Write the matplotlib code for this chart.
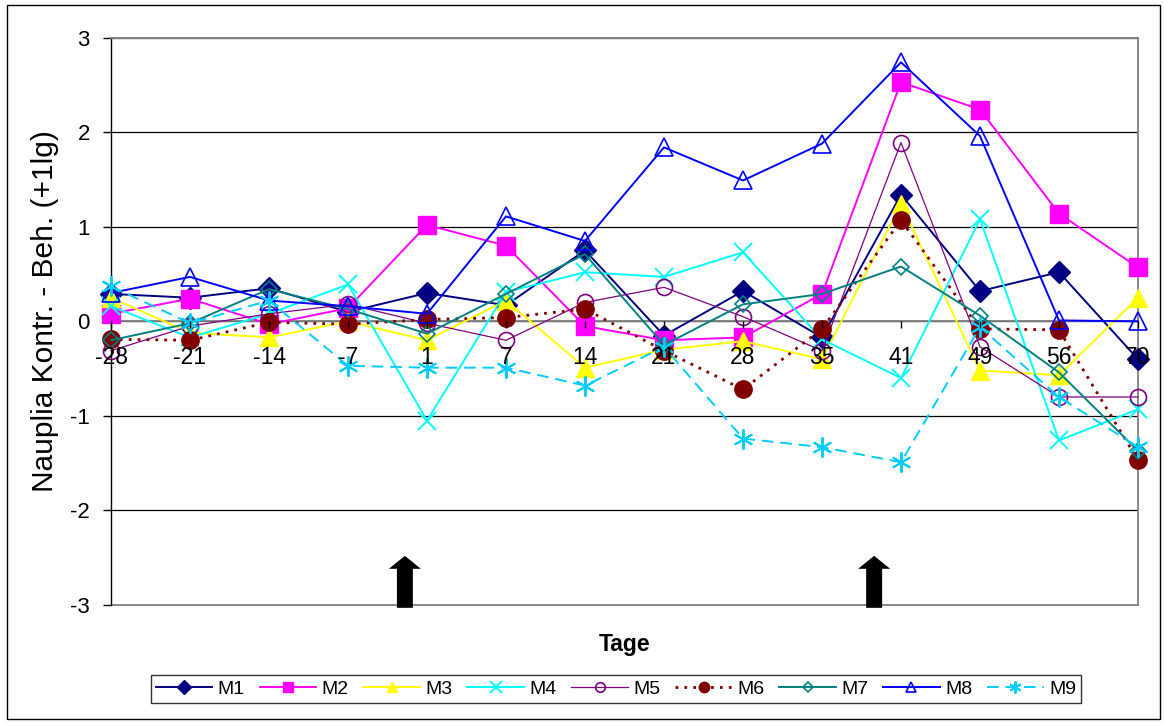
import matplotlib
matplotlib.use("Agg")
import matplotlib.pyplot as plt
from matplotlib.patches import Rectangle

plt.rcParams['font.family'] = ['Liberation Sans', 'DejaVu Sans']

# Sampling days (category axis)
days = ["-28", "-21", "-14", "-7", "1", "7", "14", "21", "28", "35", "41", "49", "56", "70"]

# Nauplia difference control - treatment, log(x+1), per mesocosm
m1 = [0.29, 0.25, 0.35, 0.10, 0.30, 0.17, 0.75, -0.15, 0.32, -0.17, 1.34, 0.32, 0.52, -0.40]
m2 = [0.08, 0.24, -0.03, 0.14, 1.02, 0.80, -0.05, -0.20, -0.17, 0.29, 2.53, 2.24, 1.14, 0.57]
m3 = [0.25, -0.12, -0.17, 0.00, -0.20, 0.22, -0.49, -0.30, -0.21, -0.40, 1.24, -0.52, -0.57, 0.25]
m4 = [0.16, -0.17, 0.08, 0.39, -1.05, 0.31, 0.52, 0.47, 0.73, -0.19, -0.60, 1.08, -1.26, -0.93]
m5 = [-0.31, -0.05, 0.08, 0.18, -0.02, -0.20, 0.20, 0.36, 0.05, -0.31, 1.89, -0.27, -0.80, -0.80]
m6 = [-0.19, -0.20, -0.01, -0.03, 0.02, 0.04, 0.13, -0.31, -0.72, -0.08, 1.07, -0.08, -0.09, -1.47]
m7 = [-0.20, -0.02, 0.34, 0.13, -0.13, 0.29, 0.71, -0.25, 0.18, 0.29, 0.58, 0.06, -0.54, -1.37]
m8 = [0.30, 0.47, 0.22, 0.16, 0.08, 1.11, 0.85, 1.84, 1.49, 1.88, 2.74, 1.96, 0.01, 0.00]
m9 = [0.37, -0.02, 0.22, -0.47, -0.49, -0.49, -0.68, -0.27, -1.24, -1.33, -1.49, -0.06, -0.80, -1.33]

labels = ["M1", "M2", "M3", "M4", "M5", "M6", "M7", "M8", "M9"]
series = [m1, m2, m3, m4, m5, m6, m7, m8, m9]

# Treatment events (category positions of the arrows)
treatments = [3.72, 9.66]

asterisk = (6, 2, 0)
styles = [
    dict(color='#000080', lw=1.4, ls='-', marker='D', ms=11.5, mfc='#000080', mec='#000080', mew=1.0),
    dict(color='#FF00FF', lw=1.4, ls='-', marker='s', ms=12.5, mfc='#FF00FF', mec='#FF00FF', mew=1.0),
    dict(color='#FFFF00', lw=1.4, ls='-', marker='^', ms=12.5, mfc='#FFFF00', mec='#FFFF00', mew=1.0),
    dict(color='#00FFFF', lw=1.4, ls='-', marker='x', ms=13.5, mfc='#00FFFF', mec='#00FFFF', mew=1.4),
    dict(color='#800080', lw=0.9, ls='-', marker='o', ms=11.5, mfc='none', mec='#800080', mew=1.2),
    dict(color='#800000', lw=2.0, ls=(0, (1, 2.2)), marker='o', ms=12.5, mfc='#800000', mec='#800000', mew=1.0),
    dict(color='#008080', lw=1.4, ls='-', marker='D', ms=8.5, mfc='none', mec='#008080', mew=1.2),
    dict(color='#0000FF', lw=1.4, ls='-', marker='^', ms=12.5, mfc='none', mec='#0000FF', mew=1.2),
    dict(color='#00CCFF', lw=1.4, ls=(0, (6, 3.5)), marker=asterisk, ms=14.5, mfc='#00CCFF', mec='#00CCFF', mew=1.4),
]

W, H = 1164, 723
fig = plt.figure(figsize=(W / 100, H / 100), dpi=100)
ax = fig.add_axes([111 / W, 1 - 605 / H, (1138 - 111) / W, (605 - 37.7) / H])

x = list(range(len(days)))
for lab, vals, st in zip(labels, series, styles):
    ax.plot(x, vals, label=lab, clip_on=False, zorder=3, **st)

ax.set_xlim(0, len(days) - 1)
ax.set_ylim(-3, 3)
ax.set_yticks([-3, -2, -1, 0, 1, 2, 3])
ax.set_yticklabels(["-3", "-2", "-1", "0", "1", "2", "3"])
ax.set_xticks(x)
ax.set_xticklabels(days)

# horizontal gridlines
ax.yaxis.grid(True, color='black', lw=0.9, zorder=1)
ax.set_axisbelow(True)
# category labels sit on top of the markers
ax.xaxis.set_zorder(4)

# plot-area frame and zero-crossing category axis
for side in ('top', 'right'):
    ax.spines[side].set_color('#808080')
    ax.spines[side].set_linewidth(1.3)
ax.spines['left'].set_color('black')
ax.spines['left'].set_linewidth(1.0)
ax.spines['bottom'].set_position(('data', 0))
ax.spines['bottom'].set_color('#808080')
ax.spines['bottom'].set_linewidth(1.3)
ax.axhline(-3, color='#808080', lw=1.3, zorder=2, clip_on=False)
ax.axhline(3, color='#808080', lw=1.3, zorder=2, clip_on=False)

ax.tick_params(axis='y', direction='out', length=5.8, width=1.0, pad=9.4,
               labelsize=16, colors='black')
ax.tick_params(axis='x', direction='out', length=5, width=1.0, pad=13,
               labelsize=16.5, colors='black')

# treatment arrows below the data
for cx in treatments:
    hw, sw = 0.2025, 0.101
    y_tip, y_head, y_base = -2.48, -2.617, -3.03
    ax.fill([cx, cx + hw, cx + sw, cx + sw, cx - sw, cx - sw, cx - hw],
            [y_tip, y_head, y_head, y_base, y_base, y_head, y_head],
            color='black', lw=0, zorder=4, clip_on=False)

fig.text(624.5 / W, 1 - 645 / H, "Tage", ha='center', va='center',
         fontsize=16.5, fontweight='bold')
fig.text(45 / W, 1 - 311 / H, "Nauplia Kontr. - Beh. (+1lg)", ha='center',
         va='center', rotation=90, fontsize=21.5)

leg = fig.legend(loc='center', bbox_to_anchor=(616 / W, 1 - 689 / H), ncol=9,
                 fontsize=14, frameon=True, fancybox=False, edgecolor='black',
                 handlelength=2.9, handletextpad=0.3, columnspacing=0.75,
                 borderpad=0.25, markerscale=0.6, borderaxespad=0)
leg.get_frame().set_linewidth(1.0)

# outer chart border
fig.patches.append(Rectangle((6.5 / W, 4.5 / H), (1159.5 - 6.5) / W, (718.5 - 4.5) / H,
                             transform=fig.transFigure, fill=False,
                             edgecolor='black', lw=1.0))

fig.savefig("out.png", dpi=100)
